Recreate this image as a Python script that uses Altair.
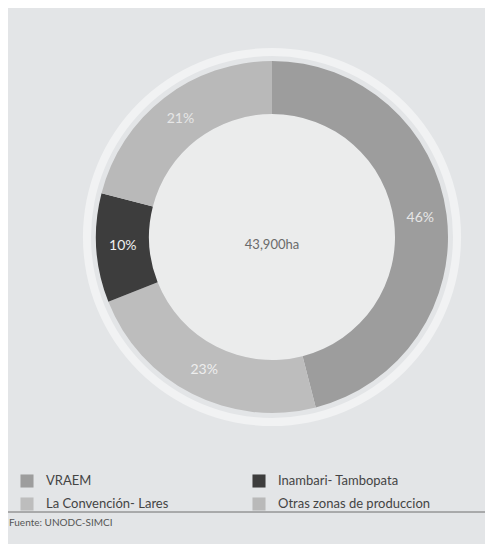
import altair as alt
import pandas as pd

zones = ["VRAEM", "La Convención- Lares", "Inambari- Tambopata", "Otras zonas de produccion"]
shares = [46, 23, 10, 21]
labels = ["46%", "23%", "10%", "21%"]
ring_order = [1, 2, 3, 4]
legend_order = ["VRAEM", "La Convención- Lares", "Inambari- Tambopata", "Otras zonas de produccion"]
legend_colors = ["#9d9d9d", "#bdbdbd", "#3d3d3d", "#b9b9b9"]
label_colors = ["#e6e6e6", "#eeeeee", "#f0f0f0", "#e6e6e6"]
total_label = "43,900ha"
source = "Fuente: UNODC-SIMCI"

df = pd.DataFrame({"zona": zones, "pct": shares, "label": labels, "ord": ring_order, "lc": label_colors})

CX, CY = 264, 229
R_OUT, R_IN = 176, 123
FONT = "Lato"
FULL = 6.2832

color = alt.Color(
    "zona:N",
    scale=alt.Scale(domain=legend_order, range=legend_colors),
    legend=alt.Legend(
        title=None, orient="none", legendX=12, legendY=466, columns=2,
        columnPadding=83, rowPadding=9, symbolType="square", symbolSize=170,
        symbolStrokeWidth=0, labelFontSize=13, labelFont=FONT, labelColor="#444444",
        labelOffset=12, symbolOpacity=1,
    ),
)

one = pd.DataFrame({"v": [1]})

halo = alt.Chart(one).mark_arc(
    radius=R_OUT + 13, radius2=R_OUT + 5, color="#f1f2f3"
).encode(theta=alt.value(0), theta2=alt.value(FULL), x=alt.value(CX), y=alt.value(CY))

inner = alt.Chart(one).mark_arc(
    radius=R_IN, radius2=0, color="#ebecec"
).encode(theta=alt.value(0), theta2=alt.value(FULL), x=alt.value(CX), y=alt.value(CY))

ring = alt.Chart(df).mark_arc(radius=R_OUT, radius2=R_IN).encode(
    theta=alt.Theta("pct:Q", stack=True),
    order=alt.Order("ord:Q"),
    color=color,
    x=alt.value(CX), y=alt.value(CY),
)

pct_text = alt.Chart(df).mark_text(radius=(R_OUT + R_IN) / 2, fontSize=14, font=FONT).encode(
    theta=alt.Theta("pct:Q", stack=True),
    order=alt.Order("ord:Q"),
    text="label:N",
    color=alt.Color("lc:N", scale=None),
    x=alt.value(CX), y=alt.value(CY),
)

center = alt.Chart(pd.DataFrame({"t": [total_label]})).mark_text(
    fontSize=13, font=FONT, color="#6a6a6a"
).encode(text="t:N", x=alt.value(CX), y=alt.value(CY + 8))

rule = alt.Chart(one).mark_rule(color="#6f6f6f", strokeWidth=1).encode(
    x=alt.value(0), x2=alt.value(477), y=alt.value(504)
)

src = alt.Chart(pd.DataFrame({"t": [source]})).mark_text(
    fontSize=10, font=FONT, color="#555555", align="left", baseline="middle"
).encode(text="t:N", x=alt.value(1), y=alt.value(515))

chart = alt.layer(halo, inner, ring, pct_text, center, rule, src).properties(
    width=477, height=536, autosize=alt.AutoSizeParams(type="none"), padding=0,
    background="#e3e5e7",
).configure_view(stroke=None)

chart.save("out.html", embed_options={"renderer": "svg", "actions": False})
